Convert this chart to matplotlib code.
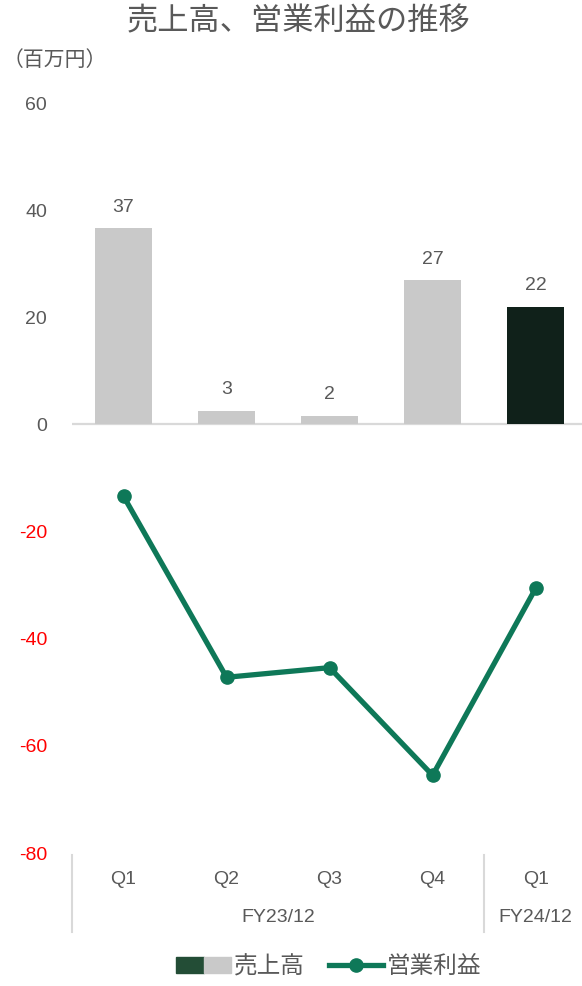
import matplotlib
matplotlib.use("Agg")
import matplotlib.pyplot as plt
import matplotlib.transforms as mtransforms
from matplotlib.lines import Line2D
from matplotlib.patches import Patch
from matplotlib.legend_handler import HandlerTuple

plt.rcParams['font.family'] = ['Liberation Sans', 'Noto Sans CJK JP', 'DejaVu Sans']

quarters = ['Q1', 'Q2', 'Q3', 'Q4', 'Q1']
fiscal_years = ['FY23/12', 'FY24/12']
fy_spans = [(0, 3), (4, 4)]
sales = [36.6, 2.6, 1.6, 26.9, 22.0]
op_profit = [-13.4, -47.2, -45.4, -65.5, -30.6]
yticks = [-80, -60, -40, -20, 0, 20, 40, 60]

GRAY_TXT = '#595959'
BAR_GRAY = '#C9C9C9'
BAR_DARK = '#10211A'
LEGEND_DARK = '#234D36'
LINE_GREEN = '#0E7858'
AXIS_GRAY = '#D9D9D9'

fig = plt.figure(figsize=(5.82, 9.86), dpi=100)
ax = fig.add_axes([72 / 582, 133 / 986, 510 / 582, 750 / 986])

x = list(range(len(quarters)))
colors = [BAR_GRAY] * (len(x) - 1) + [BAR_DARK]
bars = ax.bar(x, sales, width=0.56, color=colors, zorder=2)
for xi, v in zip(x, sales):
    ax.annotate(f"{v:.0f}", (xi, v), xytext=(0, 9), textcoords='offset points',
                ha='center', va='bottom', fontsize=14, color=GRAY_TXT)

ax.plot(x, op_profit, color=LINE_GREEN, lw=3.8, marker='o', ms=9.5,
        solid_capstyle='round', zorder=3)

ax.axhline(0, color=AXIS_GRAY, lw=1.6, zorder=1)
ax.set_xlim(-0.5, 4.45)
ax.set_ylim(-80, 60)
ax.set_yticks(yticks)
ax.set_yticklabels([str(t) for t in yticks])
for lbl, t in zip(ax.get_yticklabels(), yticks):
    lbl.set_color('#FF0000' if t < 0 else GRAY_TXT)
ax.tick_params(axis='y', length=0, pad=18, labelsize=14)
ax.set_xticks([])
for s in ax.spines.values():
    s.set_visible(False)

# two-level category axis under the plot
trans = mtransforms.blended_transform_factory(ax.transData, fig.transFigure)
for xi, q in zip(x, quarters):
    ax.text(xi, 1 - 880 / 986, q, transform=trans, ha='center', va='center',
            fontsize=14, color=GRAY_TXT)
for (a, b), fy in zip(fy_spans, fiscal_years):
    ax.text((a + b) / 2, 1 - 917 / 986, fy, transform=trans, ha='center',
            va='center', fontsize=14, color=GRAY_TXT)
for xs in (-0.5, 3.5):
    ax.add_line(Line2D([xs, xs], [1 - 855 / 986, 1 - 932 / 986], transform=trans,
                       color=AXIS_GRAY, lw=1.5, clip_on=False))

fig.text(0.513, 1 - 22 / 986, '売上高、営業利益の推移', ha='center', va='center',
         fontsize=22.5, color=GRAY_TXT)
fig.text(3 / 582, 1 - 60 / 986, '（百万円）', ha='left', va='center',
         fontsize=15, color=GRAY_TXT)

sales_handle = (Patch(color=LEGEND_DARK), Patch(color=BAR_GRAY))
profit_handle = Line2D([], [], color=LINE_GREEN, lw=3.8, marker='o', ms=9.5)
fig.legend([sales_handle, profit_handle], ['売上高', '営業利益'],
           handler_map={tuple: HandlerTuple(ndivide=None, pad=0)},
           loc='center', bbox_to_anchor=(0.565, 1 - 967 / 986), ncol=2,
           frameon=False, fontsize=17, labelcolor=GRAY_TXT,
           handlelength=2.3, handletextpad=0.15, columnspacing=1.0)

fig.savefig('out.png', dpi=100)
